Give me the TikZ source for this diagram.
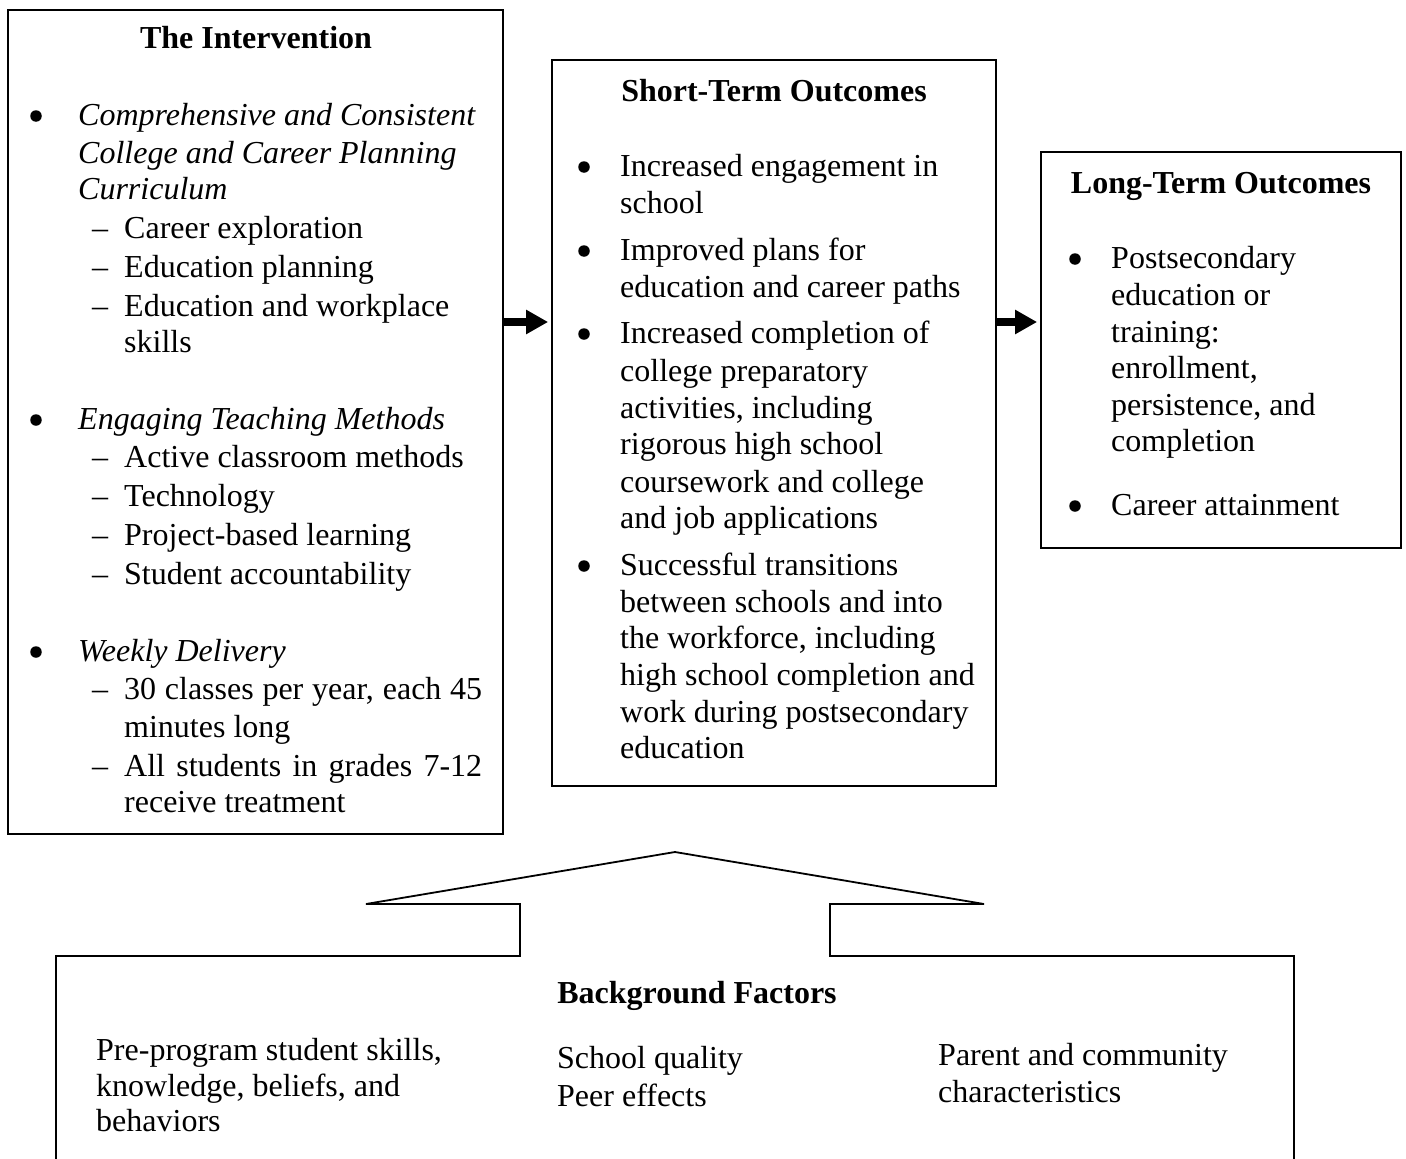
\documentclass[tikz,border=0pt]{standalone}
\usepackage{fontspec}
\setmainfont{Liberation Serif}
\usetikzlibrary{arrows.meta}
\begin{document}
\begin{tikzpicture}[x=1pt,y=-1pt,
  box/.style={draw, line width=1.8pt, inner sep=0pt},
  txt/.style={anchor=base west, inner sep=0pt, font=\fontsize{32}{38.5}\selectfont},
  itxt/.style={txt, font=\fontsize{32}{38.5}\selectfont\itshape},
  ttl/.style={anchor=base, inner sep=0pt, font=\fontsize{32}{38.5}\selectfont\bfseries},
  bul/.style={circle, fill, inner sep=0pt, minimum size=11.5pt},
  thickarrow/.style={line width=8pt, -{Triangle[length=22pt,width=23pt]}, shorten >=3pt}]
\useasboundingbox (0,0) rectangle (1406,1159);

% boxes
\node[box, minimum width=495pt, minimum height=824pt] (interv) at (255.5,422) {};
\node[box, minimum width=444pt, minimum height=726pt] (short) at (774,423) {};
\node[box, minimum width=360pt, minimum height=396pt] (long) at (1221,350) {};

% background box (cut off at the page bottom) with broad arrow
\draw[line width=1.8pt, line join=miter]
  (56,1170) -- (56,956) -- (520,956) -- (520,904) -- (366,904) -- (675,852)
  -- (984,904) -- (830,904) -- (830,956) -- (1294,956) -- (1294,1170);

% arrows
\coordinate (ay) at (0,322);
\draw[thickarrow] (interv.east |- ay) -- (short.west |- ay);
\draw[thickarrow] (short.east |- ay) -- (long.west |- ay);

% Intervention
\node[ttl] (ititle) at (256,48) {The Intervention};
\foreach \yy [count=\k] in {125,429,661}
  \node[bul, name=ib\k] at (36,\yy-9) {};
\foreach \t/\yy [count=\k] in {{Comprehensive and Consistent}/125, {College and Career Planning}/163,
  {Curriculum}/199, {Engaging Teaching Methods}/429, {Weekly Delivery}/661}
  \node[itxt, name=ih\k] at (78,\yy) {\t};
\foreach \yy [count=\k] in {238,277,316,467,506,545,584,699,776}
  \node[txt, name=id\k] at (92,\yy) {–};
\foreach \t/\yy [count=\k] in {{Career exploration}/238, {Education planning}/277,
  {Education and workplace}/316, {skills}/352, {Active classroom methods}/467,
  {Technology}/506, {Project-based learning}/545, {Student accountability}/584,
  {minutes long}/737, {receive treatment}/812}
  \node[txt, name=is\k] at (124,\yy) {\t};
\node[txt] (is11) at (124,699) {\makebox[358pt][s]{30 classes per year, each 45}};
\node[txt] (is12) at (124,776) {\makebox[358pt][s]{All students in grades 7-12}};

% Short-term outcomes
\node[ttl] (stitle) at (774,101) {Short-Term Outcomes};
\foreach \yy [count=\k] in {176,260,343,575}
  \node[bul, name=sb\k] at (584,\yy-9) {};
\foreach \t/\yy [count=\k] in {{Increased engagement in}/176, {school}/213,
  {Improved plans for}/260, {education and career paths}/297,
  {Increased completion of}/343, {college preparatory}/381,
  {activities, including}/418, {rigorous high school}/454,
  {coursework and college}/492, {and job applications}/528,
  {Successful transitions}/575, {between schools and into}/612,
  {the workforce, including}/648, {high school completion and}/685,
  {work during postsecondary}/722, {education}/758}
  \node[txt, name=st\k] at (620,\yy) {\t};

% Long-term outcomes
\node[ttl] (ltitle) at (1221,193) {Long-Term Outcomes};
\foreach \yy [count=\k] in {268,515}
  \node[bul, name=lb\k] at (1075,\yy-9) {};
\foreach \t/\yy [count=\k] in {{Postsecondary}/268, {education or}/305, {training:}/342,
  {enrollment,}/378, {persistence, and}/415, {completion}/451, {Career attainment}/515}
  \node[txt, name=lt\k] at (1111,\yy) {\t};

% Background factors
\node[ttl] (btitle) at (697,1003) {Background Factors};
\foreach \t/\yy [count=\k] in {{Pre-program student skills,}/1060, {knowledge, beliefs, and}/1096, {behaviors}/1131}
  \node[txt, name=bl\k] at (96,\yy) {\t};
\foreach \t/\yy [count=\k] in {{School quality}/1068, {Peer effects}/1106}
  \node[txt, name=bm\k] at (557,\yy) {\t};
\foreach \t/\yy [count=\k] in {{Parent and community}/1065, {characteristics}/1102}
  \node[txt, name=br\k] at (938,\yy) {\t};
\end{tikzpicture}
\end{document}
